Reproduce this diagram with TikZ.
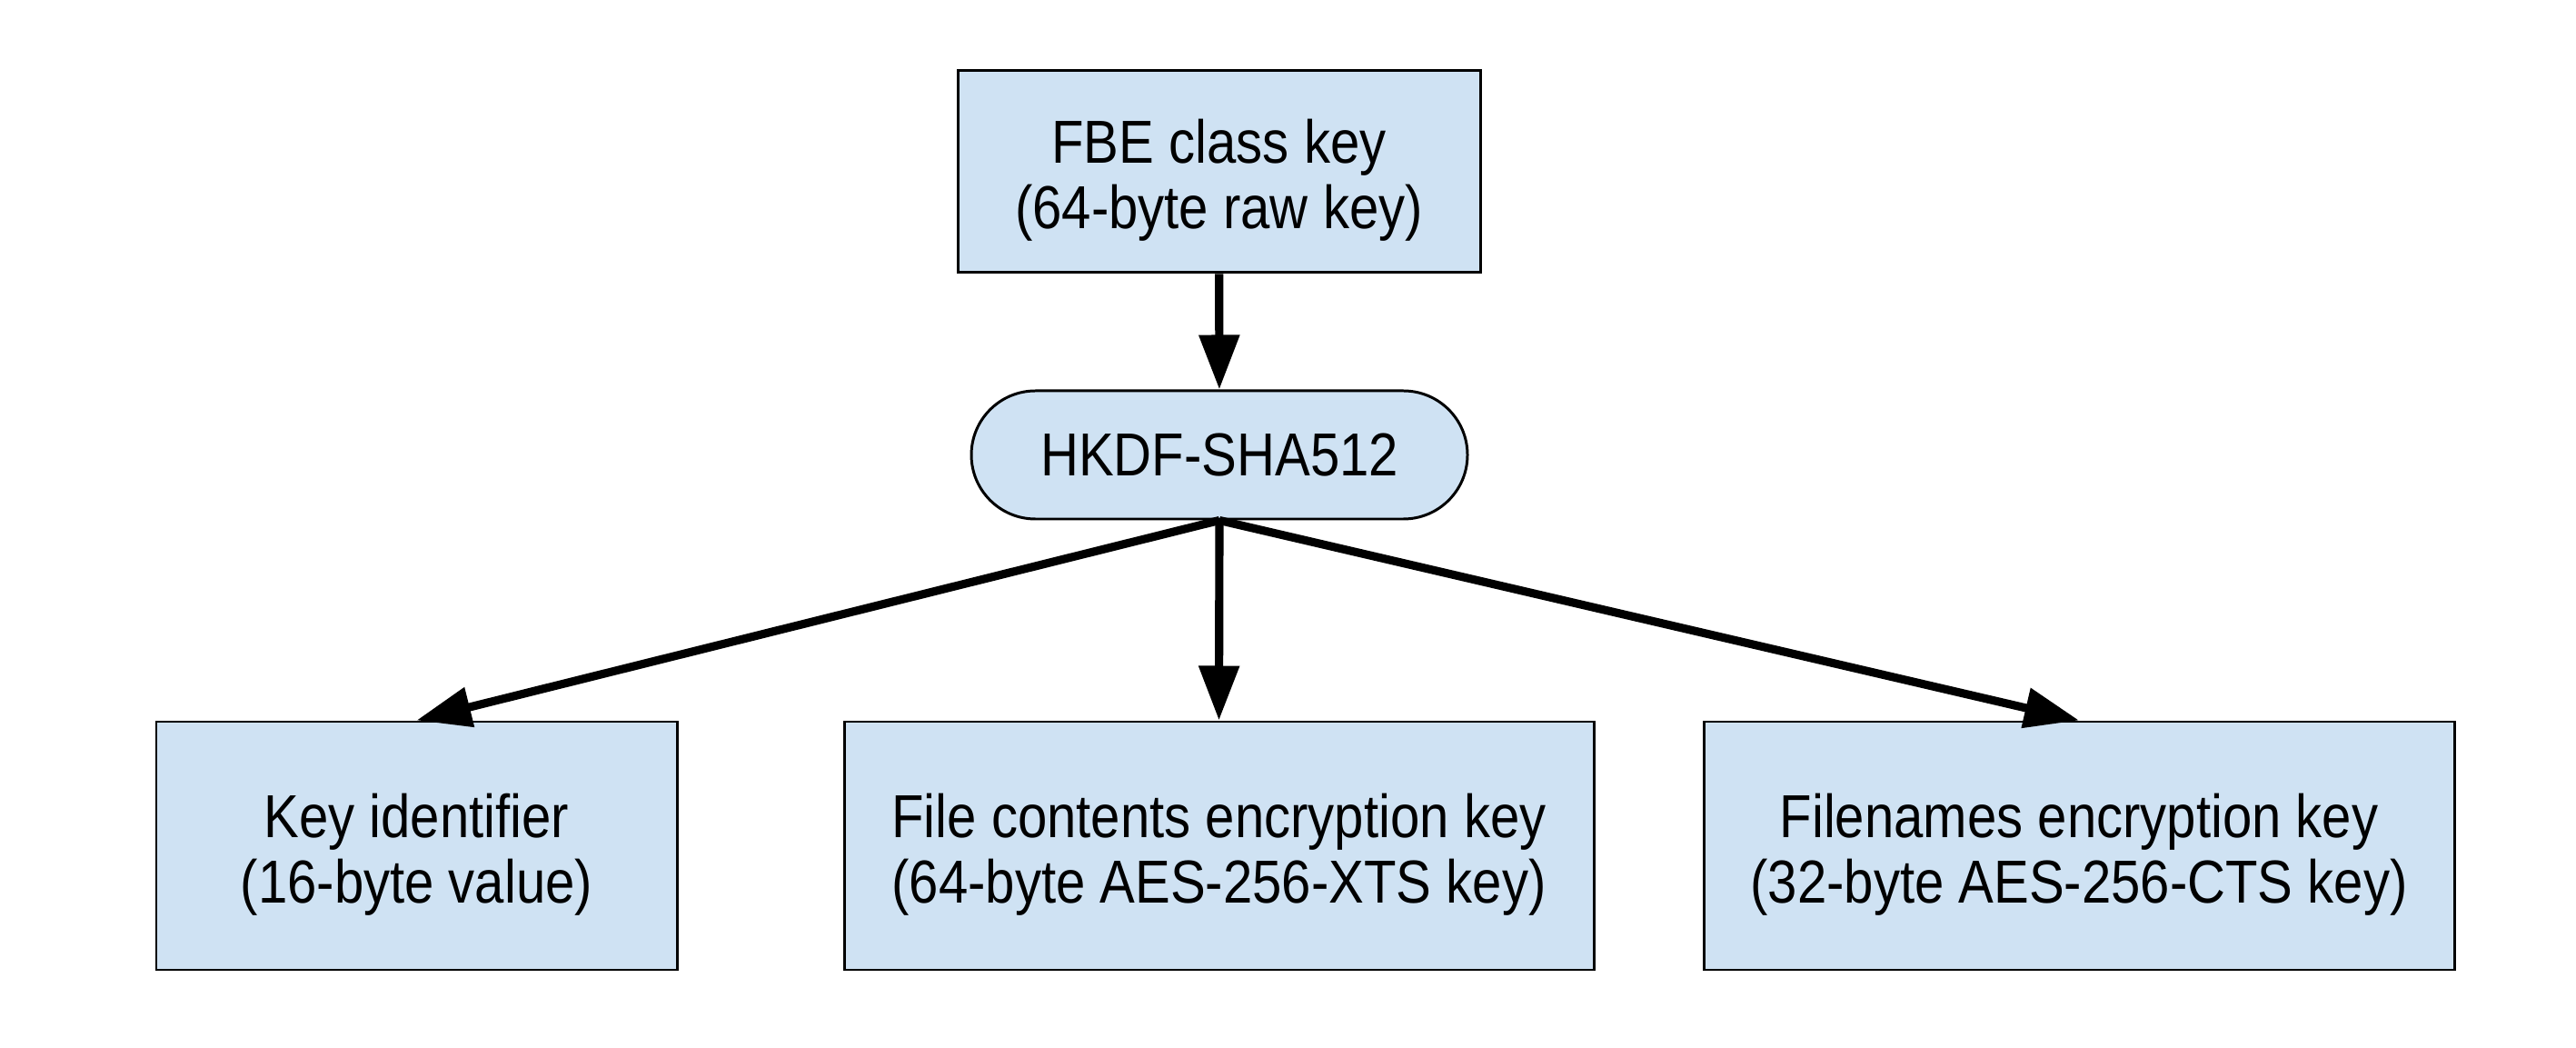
\documentclass[tikz,border=0pt]{standalone}
\usepackage{fontspec}
\setmainfont{Liberation Sans}[FakeStretch=0.87]
\usetikzlibrary{arrows.meta,shapes.misc}
\definecolor{keyblue}{HTML}{CFE2F3}
\begin{document}
\begin{tikzpicture}[
  keybox/.style={draw, line width=0.85pt, fill=keyblue, align=center, inner sep=0pt,
    font=\fontsize{19}{20.5}\selectfont, text height=1.39cm},
  kdf/.style={keybox, rounded rectangle, text height=},
  derive/.style={line width=2.6pt, -{Triangle[length=0.6cm,width=0.43cm]}}]
\useasboundingbox (0,0) rectangle (28.35,-11.53);
\node[keybox, minimum width=5.75cm, minimum height=2.22cm] (master) at (13.415,-1.89) {FBE class key\\(64-byte raw key)};
\node[kdf, minimum width=5.46cm, minimum height=1.41cm] (hkdf) at (13.42,-5.005) {HKDF-SHA512};
\node[keybox, minimum width=5.73cm, minimum height=2.73cm] (keyid) at (4.585,-9.305) {Key identifier\\(16-byte value)};
\node[keybox, minimum width=8.25cm, minimum height=2.73cm] (contents) at (13.415,-9.305) {File contents encryption key\\(64-byte AES-256-XTS key)};
\node[keybox, minimum width=8.26cm, minimum height=2.73cm] (names) at (22.88,-9.305) {Filenames encryption key\\(32-byte AES-256-CTS key)};
\draw[derive] (master) -- (hkdf);
\draw[derive] (hkdf.south) -- (keyid.north);
\draw[derive] (hkdf.south) -- (contents.north);
\draw[derive] (hkdf.south) -- (names.north);
\end{tikzpicture}
\end{document}
